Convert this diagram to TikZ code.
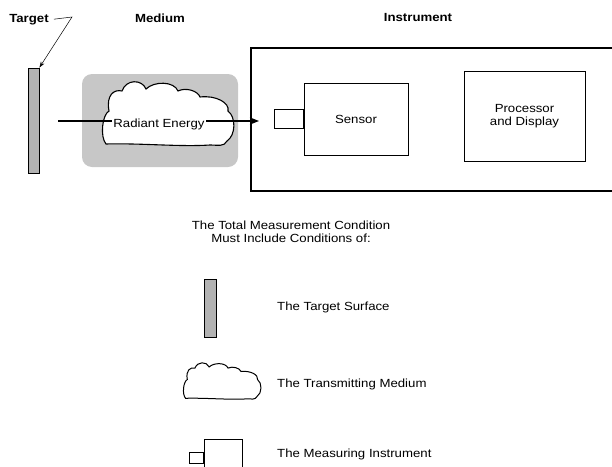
\documentclass[tikz,border=0pt]{standalone}
\usepackage{fontspec}
\setmainfont{Liberation Sans}[FakeStretch=1.12]
\usetikzlibrary{arrows.meta,calc}
\tikzset{
  lbl/.style={font=\fontsize{11.8}{13}\selectfont, inner sep=0pt},
  hdr/.style={font=\fontsize{11.8}{13}\selectfont\bfseries, inner sep=0pt},
  bar/.style={draw, fill=black!30, line width=0.9pt, inner sep=0pt},
  box/.style={draw, line width=0.9pt, inner sep=0pt},
  cloudshape/.pic={
    \draw[pic actions] (6,-3) .. controls (0,-10) and (2,-32) .. (9,-36)
      .. controls (6,-52) and (14,-58) .. (22,-56)
      .. controls (26,-68) and (42,-68) .. (46,-58)
      .. controls (54,-66) and (74,-66) .. (78,-56)
      .. controls (86,-60) and (98,-56) .. (100,-50)
      .. controls (116,-52) and (130,-44) .. (128,-36)
      .. controls (136,-30) and (136,-12) .. (127,-6)
      .. controls (124,0) and (118,-2) .. (110,-2)
      .. controls (80,0) and (40,-4) .. (6,-3) -- cycle;
  }
}
\begin{document}
\begin{tikzpicture}[x=1pt,y=-1pt]
\useasboundingbox (0,0) rectangle (612,466);
\clip (0,0) rectangle (612,466);

% headers
\node[hdr, anchor=base] (targetlbl) at (29,22) {Target};
\node[hdr, anchor=base] (mediumlbl) at (160,22) {Medium};
\node[hdr, anchor=base] (instrlbl) at (418,21) {Instrument};

% target
\node[bar, minimum width=11pt, minimum height=105pt] (target) at (33.5,120.5) {};
\coordinate (bend) at (72,17);
\draw[line width=0.5pt, -{Stealth[length=6pt,width=4pt]}] ([xshift=5pt]targetlbl.east) -- (bend) -- (target.north east);

% medium
\node[fill=black!22, rounded corners=10pt, minimum width=156pt, minimum height=93pt, inner sep=0pt] (medium) at (160,120.5) {};
\pic[fill=white, line width=1.1pt] (bigcloud) at (100,147) {cloudshape};

% instrument
\node[draw, line width=1.7pt, minimum width=400pt, minimum height=143pt, anchor=north west, inner sep=0pt] (instr) at (250,47) {};
\node[box, minimum width=104pt, minimum height=72pt] (sensor) at (356,119) {};
\node[lbl, anchor=base] (sensorlbl) at (356,123) {Sensor};
\node[box, minimum width=29pt, minimum height=19pt, anchor=east] (lens) at (sensor.west) {};
\node[box, minimum width=121pt, minimum height=90pt, align=center, font=\fontsize{11.8}{12.5}\selectfont] (proc) at (524.5,116) {Processor\\and Display};

% radiant energy arrow
\coordinate (src) at (58,121);
\coordinate (tip) at (259,121);
\draw[line width=1.6pt, -{Stealth[length=9pt,width=7pt]}] (src) -- (tip);
\node[lbl, anchor=base, fill=white, inner sep=1pt] (radiant) at (159,127) {Radiant Energy};

% caption
\node[lbl, align=center] (title) at (291,232) {The Total Measurement Condition\\Must Include Conditions of:};

% legend
\node[bar, minimum width=12pt, minimum height=58pt] (legtarget) at (210,308) {};
\node[lbl, anchor=base west] (legtargetlbl) at (277,310) {The Target Surface};

\pic[fill=white, line width=1.0pt, xscale=0.59, yscale=0.57] (smallcloud) at (182,400) {cloudshape};
\node[lbl, anchor=base west] (legmediumlbl) at (277,387) {The Transmitting Medium};

\node[box, minimum width=38pt, minimum height=40pt, anchor=north west] (legbox) at (204,439) {};
\node[box, minimum width=14pt, minimum height=11pt, anchor=north east] (leglens) at ($(legbox.north west)+(0,13)$) {};
\node[lbl, anchor=base west] (leginstrlbl) at (277,457) {The Measuring Instrument};
\end{tikzpicture}
\end{document}
